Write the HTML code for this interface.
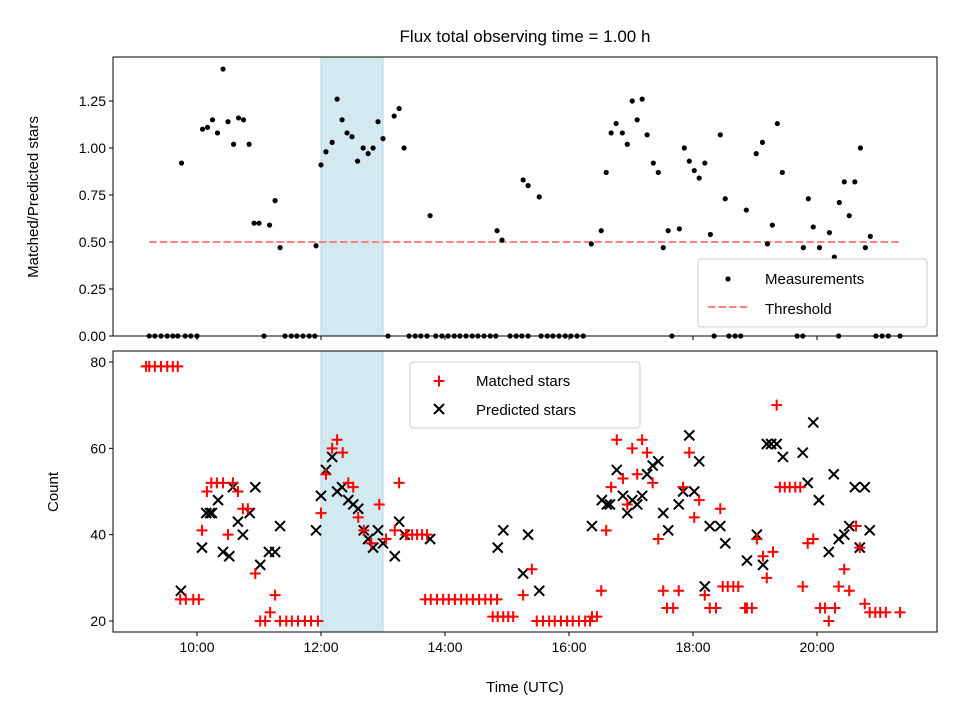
<!DOCTYPE html>
<html><head><meta charset="utf-8"><style>
body{margin:0;background:#fff}
svg{display:block;font-family:"Liberation Sans","DejaVu Sans",sans-serif}
</style></head><body>
<svg id="fig" width="960" height="720" viewBox="0 0 960 720"></svg>
<script>
// ---- data ----
const measT = [9.75,10.09,10.17,10.25,10.33,10.42,10.50,10.59,10.67,10.75,10.84,10.92,11.0,11.17,11.26,11.34,11.92,12.0,12.08,12.18,12.26,12.34,12.42,12.50,12.59,12.68,12.76,12.84,12.92,13.0,13.18,13.26,13.34,13.76,14.84,14.92,15.26,15.34,15.52,16.36,16.52,16.60,16.68,16.76,16.86,16.94,17.02,17.10,17.18,17.26,17.36,17.44,17.52,17.60,17.78,17.86,17.94,18.02,18.10,18.19,18.28,18.44,18.52,18.86,19.02,19.12,19.20,19.28,19.36,19.44,19.78,19.86,19.94,20.04,20.20,20.28,20.36,20.44,20.52,20.61,20.70,20.78,20.86,
9.23,9.32,9.42,9.52,9.61,9.69,9.81,9.90,10.0,11.08,11.42,11.52,11.61,11.71,11.81,11.90,13.08,13.42,13.52,13.61,13.71,13.85,13.95,14.05,14.15,14.24,14.34,14.44,14.53,14.63,14.73,14.82,15.05,15.15,15.24,15.34,15.55,15.65,15.74,15.84,15.94,16.03,16.13,16.23,17.66,18.34,18.58,18.68,18.77,19.68,19.77,20.35,20.95,21.05,21.15,21.34];
const measV = [0.92,1.10,1.11,1.15,1.08,1.42,1.14,1.02,1.16,1.15,1.02,0.60,0.60,0.59,0.72,0.47,0.48,0.91,0.98,1.03,1.26,1.15,1.08,1.06,0.93,1.00,0.97,1.00,1.14,1.05,1.17,1.21,1.00,0.64,0.56,0.51,0.83,0.80,0.74,0.49,0.56,0.87,1.08,1.13,1.08,1.02,1.25,1.15,1.26,1.07,0.92,0.87,0.47,0.56,0.57,1.00,0.93,0.88,0.84,0.92,0.54,1.07,0.73,0.67,0.97,1.03,0.49,0.59,1.13,0.87,0.47,0.73,0.58,0.47,0.55,0.42,0.71,0.82,0.64,0.82,1.00,0.47,0.53,
0,0,0,0,0,0,0,0,0,0,0,0,0,0,0,0,0,0,0,0,0,0,0,0,0,0,0,0,0,0,0,0,0,0,0,0,0,0,0,0,0,0,0,0,0,0,0,0,0,0,0,0,0,0,0,0];
const threshold = 0.5;
const threshStart = 9.23, threshEnd = 21.34;
const shadeStart = 12.0, shadeEnd = 13.0;

const matchedT = [9.18,9.23,9.32,9.42,9.52,9.61,9.69,9.73,9.82,9.94,10.03,10.08,10.16,10.23,10.32,10.42,10.50,10.58,10.66,10.74,10.82,10.94,11.02,11.10,11.18,11.26,11.34,11.44,11.53,11.63,11.74,11.84,11.95,12.0,12.08,12.18,12.26,12.35,12.44,12.52,12.60,12.69,12.81,12.94,13.05,13.19,13.26,13.37,13.39,13.47,13.55,13.63,13.71,
13.68,13.77,13.87,13.97,14.06,14.16,14.26,14.35,14.45,14.55,14.65,14.74,14.84,14.77,14.85,14.94,15.02,15.10,15.26,15.40,15.48,15.58,15.68,15.77,15.87,15.97,16.06,16.16,16.26,16.34,16.37,16.45,16.52,16.60,16.68,16.77,16.87,16.94,17.02,17.10,17.18,17.26,17.35,17.44,17.52,17.58,17.68,17.77,17.84,17.94,18.02,18.10,18.19,18.27,18.37,18.44,18.48,18.56,18.65,18.73,18.84,18.87,18.95,19.03,19.13,19.19,19.29,19.35,19.40,19.48,19.56,19.65,19.73,19.77,19.85,19.94,20.05,20.13,20.19,20.29,20.35,20.44,20.52,20.63,20.69,20.77,20.85,20.94,21.02,21.11,21.34];
const matchedV = [79,79,79,79,79,79,79,25,25,25,25,41,50,52,52,52,40,52,50,46,46,31,20,20,22,26,20,20,20,20,20,20,20,45,54,60,62,59,52,51,44,41,38,47,39,41,52,40,40,40,40,40,40,
25,25,25,25,25,25,25,25,25,25,25,25,25,21,21,21,21,21,26,32,20,20,20,20,20,20,20,20,20,20,21,21,27,41,51,62,53,47,60,54,62,59,52,39,27,23,23,27,51,59,44,48,26,23,23,46,28,28,28,28,23,23,23,39,35,30,36,70,51,51,51,51,51,28,38,39,23,23,20,23,28,32,27,42,37,24,22,22,22,22,22];

const predT = [9.74,10.08,10.15,10.21,10.24,10.34,10.42,10.52,10.58,10.66,10.74,10.85,10.94,11.02,11.16,11.26,11.34,11.92,12.0,12.08,12.18,12.26,12.34,12.44,12.52,12.60,12.69,12.76,12.84,12.92,13.0,13.19,13.26,13.35,13.76,14.85,14.94,15.26,15.34,15.52,16.37,16.53,16.61,16.66,16.77,16.87,16.94,17.02,17.10,17.18,17.26,17.35,17.44,17.52,17.60,17.77,17.84,17.94,18.02,18.10,18.19,18.27,18.44,18.52,18.87,19.03,19.13,19.19,19.26,19.35,19.45,19.77,19.85,19.94,20.03,20.19,20.27,20.35,20.44,20.52,20.61,20.69,20.77,20.85];
const predV = [27,37,45,45,45,48,36,35,51,43,40,45,51,33,36,36,42,41,49,55,58,50,51,48,47,46,41,39,37,41,38,35,43,40,39,37,41,31,40,27,42,48,47,47,55,49,45,48,47,49,54,56,57,45,41,47,50,63,50,57,28,42,42,38,34,40,33,61,61,61,58,59,52,66,48,36,54,39,40,42,51,37,51,41];

const yTicksTop = [0,0.25,0.5,0.75,1.0,1.25];
const yTickLabelsTop = ["0.00","0.25","0.50","0.75","1.00","1.25"];
const yTicksBot = [20,40,60,80];
const xTicks = [10,12,14,16,18,20];
const xTickLabels = ["10:00","12:00","14:00","16:00","18:00","20:00"];

// ---- layout ----
const NS="http://www.w3.org/2000/svg";
const svg=document.getElementById('fig');
function mk(tag,attrs,parent){const e=document.createElementNS(NS,tag);for(const k in attrs)e.setAttribute(k,attrs[k]);(parent||svg).appendChild(e);return e;}
const L=113,R=937;
const xS=h=>197+(h-10)*62;
const T1=57,B1=336; const yTop=v=>336-v*188;
const T2=351,B2=632; const yBot=c=>621-(c-20)*259/60;

// shading
for(const [t,b,nm] of [[T1,B1,'shade-top'],[T2,B2,'shade-bottom']]){
  const r=mk('rect',{x:xS(shadeStart),y:t,width:xS(shadeEnd)-xS(shadeStart),height:b-t,fill:'#d3e9f0',stroke:'#b5d7e3','stroke-width':1});
  
  
}
// threshold
const th=mk('line',{x1:xS(threshStart),x2:xS(threshEnd),y1:yTop(threshold),y2:yTop(threshold),stroke:'#ff8080','stroke-width':2,'stroke-dasharray':'7.4,3.2'});


// measurements
const gm=mk('g',{});


measT.forEach((t,i)=>{const c=mk('circle',{cx:xS(t),cy:yTop(measV[i]),r:2.6,fill:'#000'},gm);
  
  });
// predicted X
const gp=mk('g',{stroke:'#000','stroke-width':2});


predT.forEach((t,i)=>{const x=xS(t),y=yBot(predV[i]),s=5;
  const p=mk('path',{d:`M${x-s},${y-s}L${x+s},${y+s}M${x-s},${y+s}L${x+s},${y-s}`},gp);
  
  });
// matched +
const gr=mk('g',{stroke:'#ff0000','stroke-width':2});


matchedT.forEach((t,i)=>{const x=xS(t),y=yBot(matchedV[i]),s=5.5;
  const p=mk('path',{d:`M${x-s},${y}L${x+s},${y}M${x},${y-s}L${x},${y+s}`},gr);
  
  });

// axes frames
for(const [t,b,nm] of [[T1,B1,'top-axes-frame'],[T2,B2,'bottom-axes-frame']]){
  const r=mk('rect',{x:L,y:t,width:R-L,height:b-t,fill:'none',stroke:'#000','stroke-width':1});
  
  
}
// ticks
xTicks.forEach((h,i)=>{
  const x=xS(h);
  mk('line',{x1:x,x2:x,y1:B1,y2:B1+4,stroke:'#000'});
  mk('line',{x1:x,x2:x,y1:B2,y2:B2+4,stroke:'#000'});
  const tx=mk('text',{x:x,y:B2+20,'font-size':14,'text-anchor':'middle'});
  tx.textContent=xTickLabels[i];
  
  
});
yTicksTop.forEach((v,i)=>{
  const y=yTop(v);
  mk('line',{x1:L-4,x2:L,y1:y,y2:y,stroke:'#000'});
  const tx=mk('text',{x:L-7,y:y+5,'font-size':14,'text-anchor':'end'});
  tx.textContent=yTickLabelsTop[i];
  
  
});
yTicksBot.forEach(v=>{
  const y=yBot(v);
  mk('line',{x1:L-4,x2:L,y1:y,y2:y,stroke:'#000'});
  const tx=mk('text',{x:L-7,y:y+5,'font-size':14,'text-anchor':'end'});
  tx.textContent=String(v);
  
  
});
</script>
<svg width="960" height="720" style="position:absolute;left:0;top:0">
<text x="525" y="42" font-size="17" text-anchor="middle" font-family="Liberation Sans, sans-serif">Flux total observing time = 1.00 h</text>
<text x="0" y="0" font-size="15" text-anchor="middle" font-family="Liberation Sans, sans-serif" transform="translate(38,197) rotate(-90)">Matched/Predicted stars</text>
<text x="0" y="0" font-size="15" text-anchor="middle" font-family="Liberation Sans, sans-serif" transform="translate(58,492) rotate(-90)">Count</text>
<text x="525" y="692" font-size="15" text-anchor="middle" font-family="Liberation Sans, sans-serif">Time (UTC)</text>
<g>
<rect x="698" y="259" width="229" height="68" rx="3" fill="#fff" fill-opacity="0.8" stroke="#ccc"/>
<circle cx="728" cy="279" r="2.6" fill="#000"/>
<text x="765" y="284" font-size="15" font-family="Liberation Sans, sans-serif">Measurements</text>
<line x1="708" x2="748" y1="307" y2="307" stroke="#ff8080" stroke-width="2" stroke-dasharray="7.4,3.2"/>
<text x="765" y="314" font-size="15" font-family="Liberation Sans, sans-serif">Threshold</text>
</g>
<g>
<rect x="410" y="362" width="230" height="66" rx="3" fill="#fff" fill-opacity="0.8" stroke="#ccc"/>
<path d="M433.5,381L444.5,381M439,375.5L439,386.5" stroke="#f00" stroke-width="2"/>
<text x="476" y="386" font-size="15" font-family="Liberation Sans, sans-serif">Matched stars</text>
<path d="M434,404L444,414M434,414L444,404" stroke="#000" stroke-width="2"/>
<text x="476" y="415" font-size="15" font-family="Liberation Sans, sans-serif">Predicted stars</text>
</g>
</svg>
</body></html>
